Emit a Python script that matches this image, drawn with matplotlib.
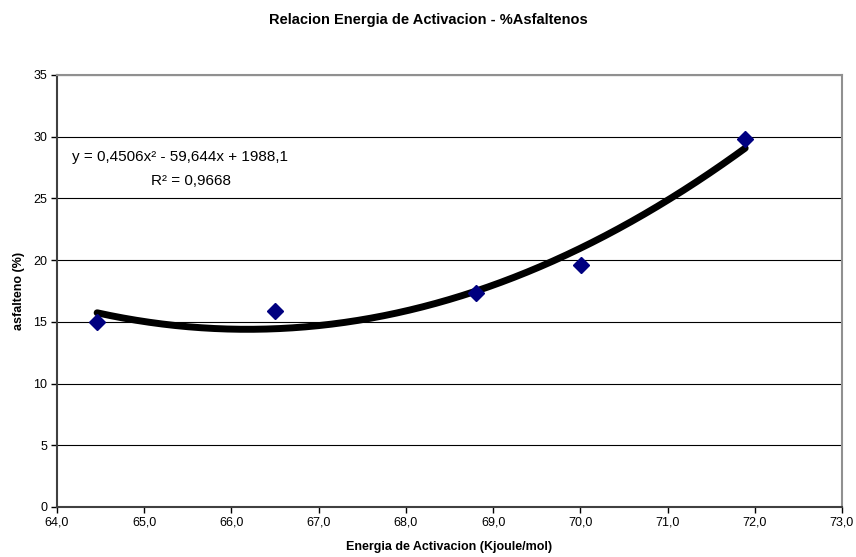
import numpy as np
import matplotlib
matplotlib.use('Agg')
import matplotlib.pyplot as plt

plt.rcParams['font.family'] = ['Liberation Sans', 'DejaVu Sans']

# puntos
energia = [64.46, 66.50, 68.80, 70.01, 71.89]
asfalteno = [15.02, 15.91, 17.3, 19.61, 29.80]

# linea de tendencia (polinomica, segun la ecuacion del grafico)
coef = [0.4506, -59.644, 1988.1]
xticks = [64, 65, 66, 67, 68, 69, 70, 71, 72, 73]
yticks = [0, 5, 10, 15, 20, 25, 30, 35]

fig = plt.figure(figsize=(8.56, 5.57), dpi=100)
ax = fig.add_axes([0.0666, 0.0898, 0.9170, 0.7756])

xx = np.linspace(min(energia), max(energia), 200)
yy = np.polyval(coef, xx)
ax.plot(xx, yy, color='black', lw=5, solid_capstyle='round', zorder=3)
ax.plot(energia, asfalteno, 'D', color='#000080', markersize=8, zorder=4)

ax.set_xlim(64, 73)
ax.set_ylim(0, 35)
ax.set_xticks(xticks)
ax.set_yticks(yticks)
ax.set_xticklabels([('%.1f' % t).replace('.', ',') for t in xticks])
ax.set_yticklabels([str(t) for t in yticks])
ax.tick_params(labelsize=9, length=4, width=1, colors='black', pad=3)
ax.yaxis.grid(True, color='black', lw=0.8)
ax.set_axisbelow(True)

for s in ['left', 'bottom']:
    ax.spines[s].set_color('#404040')
    ax.spines[s].set_linewidth(1.5)
for s in ['top', 'right']:
    ax.spines[s].set_color('#909090')
    ax.spines[s].set_linewidth(1.5)

ax.set_xlabel('Energia de Activacion (Kjoule/mol)', fontsize=9, fontweight='bold', labelpad=9)
ax.set_ylabel('asfalteno (%)', fontsize=9, fontweight='bold', labelpad=6)
fig.suptitle('Relacion Energia de Activacion - %Asfaltenos', fontsize=10.5, fontweight='bold', y=0.977)

ax.text(65.41, 28.36, 'y = 0,4506x\u00b2 - 59,644x + 1988,1', fontsize=11, ha='center', va='center')
ax.text(65.54, 26.4, 'R\u00b2 = 0,9668', fontsize=11, ha='center', va='center')

fig.savefig('out.png', dpi=100)
